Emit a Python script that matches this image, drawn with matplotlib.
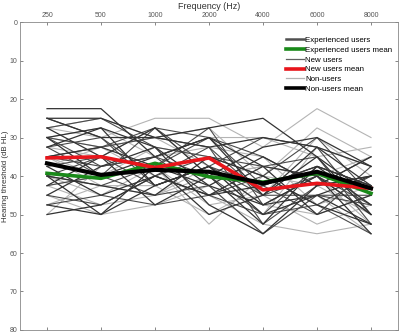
import numpy as np
import matplotlib
matplotlib.use("Agg")
import matplotlib.pyplot as plt
from matplotlib.lines import Line2D

plt.rcParams['font.family'] = ['Liberation Sans', 'DejaVu Sans']

# ---------- data ----------
frecuencias = ['250', '500', '1000', '2000', '4000', '6000', '8000']

experimentados = [
    [22.5, 22.5, 35.0, 30.0, 37.5, 40.0, 50.0],
    [25.0, 25.0, 30.0, 27.5, 25.0, 35.0, 45.0],
    [27.5, 35.0, 27.5, 40.0, 32.5, 30.0, 37.5],
    [30.0, 40.0, 35.0, 30.0, 45.0, 32.5, 42.5],
    [32.5, 27.5, 42.5, 37.5, 50.0, 45.0, 40.0],
    [37.5, 45.0, 40.0, 45.0, 42.5, 37.5, 47.5],
    [40.0, 42.5, 45.0, 35.0, 40.0, 47.5, 52.5],
    [45.0, 37.5, 32.5, 47.5, 55.0, 42.5, 35.0],
    [47.5, 50.0, 37.5, 42.5, 47.5, 40.0, 55.0],
    [50.0, 47.5, 40.0, 45.0, 37.5, 50.0, 45.0],
    [42.5, 35.0, 47.5, 40.0, 52.5, 37.5, 42.5],
    [35.0, 32.5, 37.5, 50.0, 45.0, 35.0, 50.0],
    [25.0, 30.0, 30.0, 32.5, 30.0, 32.5, 37.5],
    [40.0, 50.0, 42.5, 37.5, 47.5, 45.0, 52.5],
    [30.0, 27.5, 32.5, 42.5, 35.0, 42.5, 40.0],
]
nuevos = [
    [27.5, 25.0, 32.5, 35.0, 40.0, 30.0, 45.0],
    [30.0, 32.5, 27.5, 30.0, 35.0, 42.5, 40.0],
    [32.5, 30.0, 40.0, 32.5, 45.0, 45.0, 47.5],
    [35.0, 37.5, 35.0, 40.0, 50.0, 37.5, 42.5],
    [37.5, 35.0, 42.5, 37.5, 42.5, 50.0, 37.5],
    [40.0, 42.5, 37.5, 27.5, 47.5, 40.0, 50.0],
    [42.5, 40.0, 45.0, 42.5, 55.0, 45.0, 45.0],
    [45.0, 47.5, 40.0, 35.0, 37.5, 35.0, 52.5],
    [30.0, 37.5, 35.0, 45.0, 40.0, 47.5, 40.0],
    [35.0, 32.5, 30.0, 32.5, 52.5, 42.5, 35.0],
    [25.0, 30.0, 42.5, 37.5, 45.0, 40.0, 47.5],
    [40.0, 35.0, 37.5, 30.0, 42.5, 37.5, 42.5],
    [32.5, 40.0, 27.5, 37.5, 30.0, 32.5, 50.0],
    [47.5, 45.0, 47.5, 45.0, 50.0, 47.5, 55.0],
]
no_usuarios = [
    [27.5, 30.0, 25.0, 25.0, 32.5, 22.5, 30.0],
    [30.0, 27.5, 35.0, 30.0, 30.0, 35.0, 32.5],
    [32.5, 35.0, 27.5, 40.0, 37.5, 40.0, 35.0],
    [35.0, 40.0, 32.5, 35.0, 45.0, 30.0, 40.0],
    [37.5, 32.5, 40.0, 45.0, 52.5, 55.0, 52.5],
    [40.0, 45.0, 37.5, 52.5, 40.0, 42.5, 50.0],
    [42.5, 47.5, 45.0, 37.5, 47.5, 50.0, 45.0],
    [45.0, 50.0, 47.5, 42.5, 55.0, 45.0, 55.0],
    [47.5, 42.5, 42.5, 50.0, 42.5, 37.5, 47.5],
    [50.0, 37.5, 35.0, 32.5, 35.0, 47.5, 42.5],
    [30.0, 32.5, 30.0, 37.5, 50.0, 32.5, 37.5],
    [35.0, 42.5, 45.0, 40.0, 37.5, 40.0, 52.5],
    [27.5, 25.0, 30.0, 27.5, 40.0, 27.5, 35.0],
    [42.5, 40.0, 37.5, 47.5, 45.0, 52.5, 47.5],
]

media_exp = [39.3, 40.6, 36.7, 40.2, 41.6, 39.3, 44.5]
media_nuevos = [35.3, 35.0, 37.8, 35.3, 43.6, 41.9, 43.2]
media_no = [36.7, 39.7, 38.4, 38.9, 41.9, 38.9, 43.2]

# ---------- figure ----------
fig = plt.figure(figsize=(4.0, 3.34), dpi=100)
ax = fig.add_axes([0.05, 0.012, 0.945, 0.922])
x = np.arange(1, len(frecuencias) + 1)

for v in no_usuarios:
    ax.plot(x, v, color='#b4b4b4', lw=0.8, zorder=2)
for v in nuevos:
    ax.plot(x, v, color='#4a4a4a', lw=0.8, zorder=2)
for v in experimentados:
    ax.plot(x, v, color='#333333', lw=0.9, zorder=2)

ax.plot(x, media_exp, color='#1a8a1a', lw=2.6, zorder=4)
ax.plot(x, media_nuevos, color='#e8151b', lw=2.6, zorder=4)
ax.plot(x, media_no, color='black', lw=3.0, zorder=5)

# leyenda (mismo orden que la original)
handles = [
    Line2D([], [], color='#505050', lw=1.8),
    Line2D([], [], color='#1a8a1a', lw=2.6),
    Line2D([], [], color='#606060', lw=0.9),
    Line2D([], [], color='#e8151b', lw=2.6),
    Line2D([], [], color='#b4b4b4', lw=0.9),
    Line2D([], [], color='black', lw=2.6),
]
labels = ['Experienced users', 'Experienced users mean', 'New users',
          'New users mean', 'Non-users', 'Non-users mean']
ax.legend(handles, labels, loc='upper right', bbox_to_anchor=(0.985, 0.953),
          frameon=False, fontsize=5.7, handlelength=2.3, handletextpad=0.1,
          labelspacing=0.28, borderaxespad=0, borderpad=0)

# ---------- ejes ----------
ax.set_xlim(0.5, 7.5)
ax.set_ylim(80, 0)
ax.set_xticks(x)
ax.set_xticklabels(frecuencias)
ax.set_yticks(np.arange(0, 81, 10))
ax.xaxis.tick_top()
ax.xaxis.set_label_position('top')
ax.set_xlabel('Frequency (Hz)', fontsize=6.5, color='#333333', labelpad=2.5)
ax.set_ylabel('Hearing threshold (dB HL)', fontsize=5.7, color='#333333')
ax.yaxis.set_label_coords(-0.029, 0.5)
ax.tick_params(direction='in', length=2.5, width=0.5, labelsize=5,
               colors='#555555', top=True, bottom=True, left=True, right=True,
               pad=2)
for s in ax.spines.values():
    s.set_color('#888888')
    s.set_linewidth(0.6)

fig.savefig('out.png', dpi=100)
